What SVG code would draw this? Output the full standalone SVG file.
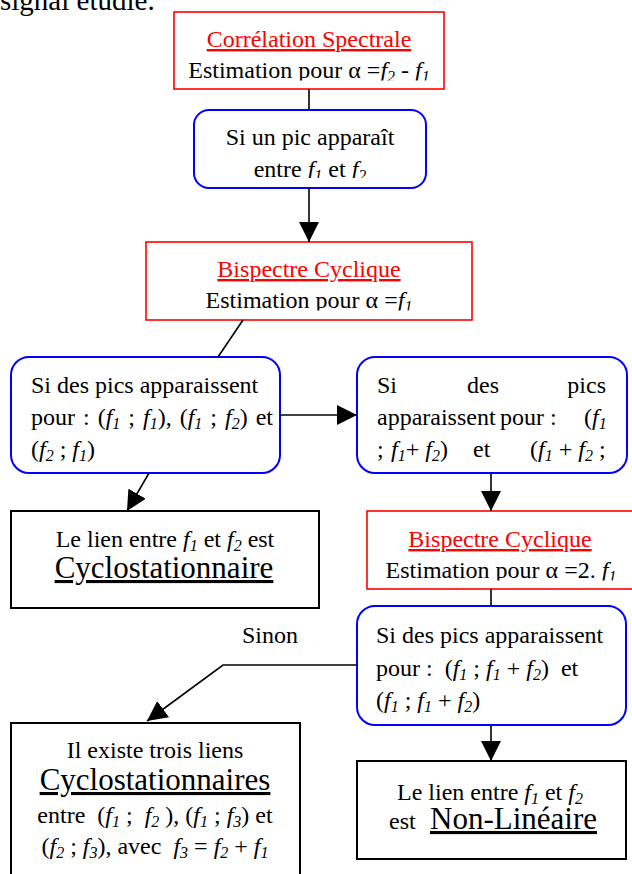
<svg xmlns="http://www.w3.org/2000/svg" width="632" height="874" viewBox="0 0 632 874">
<style>
.t { font-family: "Liberation Serif", "Times New Roman", serif; font-size: 24px; fill: #000; }
.r { fill: #f00; text-decoration: underline; }
.i { font-style: italic; }
.sb { font-size: 16px; font-style: italic; }
.big { font-size: 31px; text-decoration: underline; }
.rb { fill: #fff; stroke: #f00; stroke-width: 1.6; }
.bb { fill: #fff; stroke: #00f; stroke-width: 2; }
.kb { fill: #fff; stroke: #000; stroke-width: 2; }
.c { stroke: #000; stroke-width: 1.6; fill: none; }
.ca { stroke: #000; stroke-width: 1.6; fill: none; marker-end: url(#ah); }
</style>
<defs>
<marker id="ah" markerUnits="userSpaceOnUse" markerWidth="20" markerHeight="20" refX="20" refY="10" orient="auto" viewBox="0 0 20 20">
<path d="M0,0 L20,10 L0,20 z" fill="#000"/>
</marker>
<clipPath id="cl1"><rect x="140" y="0" width="340" height="80.5"/></clipPath>
<clipPath id="cl2"><rect x="190" y="100" width="240" height="78"/></clipPath>
<clipPath id="cl3"><rect x="140" y="240" width="340" height="70.5"/></clipPath>
<clipPath id="cl4"><rect x="360" y="500" width="280" height="80.5"/></clipPath>
</defs>

<text class="t" x="0" y="10" style="font-size:29px">signal étudié.</text>

<g id="n1">
<rect class="rb" x="174" y="12" width="270" height="77"/>
<text class="t r" x="309" y="47" text-anchor="middle">Corrélation Spectrale</text>
<text class="t" x="309" y="78" text-anchor="middle" clip-path="url(#cl1)">Estimation pour α =<tspan class="i">f</tspan><tspan class="sb" dy="4">2</tspan><tspan dy="-4"> - </tspan><tspan class="i">f</tspan><tspan class="sb" dy="4">1</tspan></text>
</g>

<g id="n2">
<rect class="bb" x="194" y="110" width="232" height="78" rx="15"/>
<text class="t" x="310" y="145" text-anchor="middle">Si un pic apparaît</text>
<text class="t" x="310" y="177" text-anchor="middle" clip-path="url(#cl2)">entre <tspan class="i">f</tspan><tspan class="sb" dy="4">1</tspan><tspan dy="-4"> et </tspan><tspan class="i">f</tspan><tspan class="sb" dy="4">2</tspan></text>
</g>

<g id="n3">
<rect class="rb" x="146" y="242" width="326" height="78"/>
<text class="t r" x="309" y="277" text-anchor="middle">Bispectre Cyclique</text>
<text class="t" x="309" y="308" text-anchor="middle" clip-path="url(#cl3)">Estimation pour α =<tspan class="i">f</tspan><tspan class="sb" dy="4">1</tspan></text>
</g>

<g id="n4">
<rect class="bb" x="11" y="357" width="269" height="116" rx="18"/>
<text class="t" x="31" y="393">Si des pics apparaissent</text>
<text class="t" x="31" y="425" word-spacing="2">pour : (<tspan class="i">f</tspan><tspan class="sb" dy="4">1</tspan><tspan dy="-4"> ; </tspan><tspan class="i">f</tspan><tspan class="sb" dy="4">1</tspan><tspan dy="-4">), (</tspan><tspan class="i">f</tspan><tspan class="sb" dy="4">1</tspan><tspan dy="-4"> ; </tspan><tspan class="i">f</tspan><tspan class="sb" dy="4">2</tspan><tspan dy="-4">) et</tspan></text>
<text class="t" x="31" y="457">(<tspan class="i">f</tspan><tspan class="sb" dy="4">2</tspan><tspan dy="-4"> ; </tspan><tspan class="i">f</tspan><tspan class="sb" dy="4">1</tspan><tspan dy="-4">)</tspan></text>
</g>

<g id="n5">
<rect class="bb" x="357" y="357" width="270" height="116" rx="18"/>
<text class="t" x="377" y="393">Si</text>
<text class="t" x="467" y="393">des</text>
<text class="t" x="606" y="393" text-anchor="end">pics</text>
<text class="t" x="377" y="425">apparaissent</text>
<text class="t" x="500" y="425">pour :</text>
<text class="t" x="584" y="425">(<tspan class="i">f</tspan><tspan class="sb" dy="4">1</tspan></text>
<text class="t" x="377" y="457">;</text>
<text class="t" x="391" y="457"><tspan class="i">f</tspan><tspan class="sb" dy="4">1</tspan><tspan dy="-4">+ </tspan><tspan class="i">f</tspan><tspan class="sb" dy="4">2</tspan><tspan dy="-4">)</tspan></text>
<text class="t" x="473" y="457">et</text>
<text class="t" x="530" y="457">(<tspan class="i">f</tspan><tspan class="sb" dy="4">1</tspan><tspan dy="-4"> + </tspan><tspan class="i">f</tspan><tspan class="sb" dy="4">2</tspan><tspan dy="-4"> ;</tspan></text>
</g>

<g id="n6">
<rect class="kb" x="11" y="511" width="308" height="97"/>
<text class="t" x="165" y="547" text-anchor="middle">Le lien entre <tspan class="i">f</tspan><tspan class="sb" dy="4">1</tspan><tspan dy="-4"> et </tspan><tspan class="i">f</tspan><tspan class="sb" dy="4">2</tspan><tspan dy="-4"> est</tspan></text>
<text class="t big" x="164" y="578" text-anchor="middle">Cyclostationnaire</text>
</g>

<g id="n7">
<rect class="rb" x="367" y="511" width="280" height="78"/>
<text class="t r" x="500" y="547" text-anchor="middle">Bispectre Cyclique</text>
<text class="t" x="501" y="578" text-anchor="middle" clip-path="url(#cl4)">Estimation pour α =2. <tspan class="i">f</tspan><tspan class="sb" dy="4">1</tspan></text>
</g>

<g id="n8">
<rect class="bb" x="357" y="606" width="269" height="119" rx="18"/>
<text class="t" x="376" y="643">Si des pics apparaissent</text>
<text class="t" x="376" y="676" xml:space="preserve">pour :  (<tspan class="i">f</tspan><tspan class="sb" dy="4">1</tspan><tspan dy="-4"> ; </tspan><tspan class="i">f</tspan><tspan class="sb" dy="4">1</tspan><tspan dy="-4"> + </tspan><tspan class="i">f</tspan><tspan class="sb" dy="4">2</tspan><tspan dy="-4">)  et</tspan></text>
<text class="t" x="376" y="708">(<tspan class="i">f</tspan><tspan class="sb" dy="4">1</tspan><tspan dy="-4"> ; </tspan><tspan class="i">f</tspan><tspan class="sb" dy="4">1</tspan><tspan dy="-4"> + </tspan><tspan class="i">f</tspan><tspan class="sb" dy="4">2</tspan><tspan dy="-4">)</tspan></text>
</g>

<g id="n9">
<rect class="kb" x="11" y="723" width="289" height="170"/>
<text class="t" x="155" y="758" text-anchor="middle">Il existe trois liens</text>
<text class="t big" x="155" y="790" text-anchor="middle">Cyclostationnaires</text>
<text class="t" x="155" y="823" text-anchor="middle" xml:space="preserve">entre  (<tspan class="i">f</tspan><tspan class="sb" dy="4">1</tspan><tspan dy="-4"> ;  </tspan><tspan class="i">f</tspan><tspan class="sb" dy="4">2</tspan><tspan dy="-4"> ), (</tspan><tspan class="i">f</tspan><tspan class="sb" dy="4">1</tspan><tspan dy="-4"> ; </tspan><tspan class="i">f</tspan><tspan class="sb" dy="4">3</tspan><tspan dy="-4">) et</tspan></text>
<text class="t" x="155" y="854" text-anchor="middle" xml:space="preserve">(<tspan class="i">f</tspan><tspan class="sb" dy="4">2</tspan><tspan dy="-4"> ; </tspan><tspan class="i">f</tspan><tspan class="sb" dy="4">3</tspan><tspan dy="-4">), avec  </tspan><tspan class="i">f</tspan><tspan class="sb" dy="4">3</tspan><tspan dy="-4"> = </tspan><tspan class="i">f</tspan><tspan class="sb" dy="4">2</tspan><tspan dy="-4"> + </tspan><tspan class="i">f</tspan><tspan class="sb" dy="4">1</tspan></text>
</g>

<g id="n10">
<rect class="kb" x="357" y="761" width="269" height="98"/>
<text class="t" x="490" y="800" text-anchor="middle">Le lien entre <tspan class="i">f</tspan><tspan class="sb" dy="4">1</tspan><tspan dy="-4"> et </tspan><tspan class="i">f</tspan><tspan class="sb" dy="4">2</tspan></text>
<text class="t" x="389" y="829">est</text>
<text class="t big" x="430" y="829">Non-Linéaire</text>
</g>

<text class="t" x="242" y="643">Sinon</text>

<g id="connectors">
<line class="c" x1="309" y1="89" x2="309" y2="110"/>
<line class="ca" x1="309" y1="188" x2="309" y2="242"/>
<line class="c" x1="243" y1="320" x2="218" y2="357"/>
<line class="ca" x1="280" y1="415" x2="357" y2="415"/>
<line class="ca" x1="149" y1="473" x2="127" y2="511"/>
<line class="ca" x1="491" y1="473" x2="491" y2="511"/>
<line class="c" x1="491" y1="589" x2="491" y2="606"/>
<polyline class="ca" points="357,665 223,665 147,721"/>
<line class="ca" x1="491" y1="725" x2="491" y2="761"/>
</g>
</svg>
